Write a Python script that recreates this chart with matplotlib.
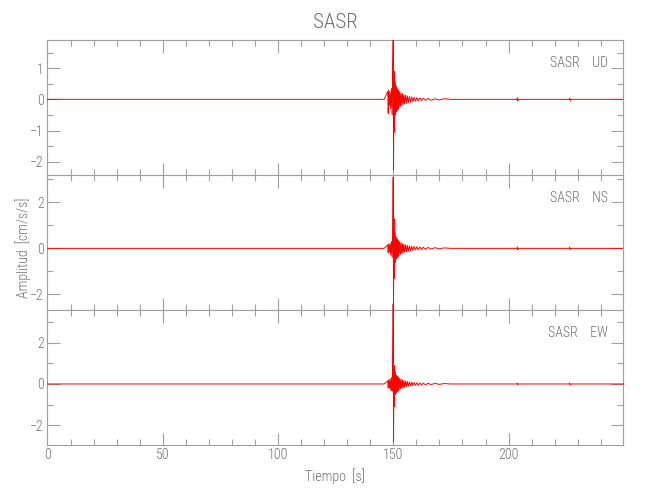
import matplotlib
matplotlib.use("Agg")
import matplotlib.pyplot as plt
from matplotlib import font_manager
from matplotlib.ticker import MultipleLocator

# estación y componentes
estacion = "SASR"
componentes = ["UD", "NS", "EW"]

t = [0, 146.0, 147.6, 147.8, 148.0, 148.3, 148.6, 148.9, 149.2, 149.5,
     149.75, 149.95, 150.1,
     150.3, 150.5, 150.7, 150.9, 151.1, 151.3, 151.5, 151.7, 151.9, 152.1,
     152.3, 152.5, 152.8, 153.1, 153.4, 153.7, 154.0, 154.3, 154.6, 154.9,
     155.3, 155.7, 156.1, 156.5, 157.0, 157.5, 158.0, 158.5, 159.0, 159.6,
     160.2, 160.8, 161.5, 162.2, 163.0, 164.0, 165.0, 166.5, 168, 170,
     172, 175,
     203.6, 203.8, 204.0, 204.3, 226.3, 226.5, 226.8, 227.1, 250]

# amplitudes estimadas (cm/s/s)
ud = [0, 0, 0.25, -0.45, 0.3, -0.2, 0.25, -0.3, 0.35, -0.5,
      1.0, 1.9, -2.25,
      0.9, -1.05, 0.55, -0.5, 0.45, -0.4, 0.38, -0.35, 0.32, -0.3,
      0.28, -0.26, 0.24, -0.22, 0.2, -0.19, 0.18, -0.16, 0.15, -0.14,
      0.13, -0.12, 0.11, -0.1, 0.09, -0.09, 0.08, -0.07, 0.07, -0.06,
      0.06, -0.05, 0.05, -0.04, 0.04, -0.03, 0.03, -0.03, 0.02, -0.02,
      0.02, 0,
      0, 0.05, -0.05, 0, 0, 0.04, -0.04, 0, 0]
ns = [0, 0, 0.15, -0.2, 0.2, -0.15, 0.2, -0.3, 0.3, -0.4,
      0.8, 3.1, -2.45,
      1.3, -1.3, 0.7, -0.6, 0.5, -0.45, 0.42, -0.4, 0.38, -0.35,
      0.32, -0.3, 0.28, -0.26, 0.24, -0.22, 0.2, -0.19, 0.18, -0.16,
      0.15, -0.14, 0.13, -0.12, 0.11, -0.1, 0.09, -0.09, 0.08, -0.07,
      0.07, -0.06, 0.06, -0.05, 0.05, -0.04, 0.04, -0.03, 0.03, -0.02,
      0.02, 0,
      0, 0.06, -0.06, 0, 0, 0.05, -0.05, 0, 0]
ew = [0, 0, 0.15, -0.2, 0.2, -0.2, 0.25, -0.3, 0.3, -0.35,
      1.35, 3.9, -2.8,
      0.9, -1.1, 0.6, -0.5, 0.45, -0.42, 0.4, -0.38, 0.35, -0.32,
      0.3, -0.28, 0.26, -0.24, 0.22, -0.2, 0.19, -0.18, 0.16, -0.15,
      0.14, -0.13, 0.12, -0.11, 0.1, -0.09, 0.09, -0.08, 0.07, -0.07,
      0.06, -0.06, 0.05, -0.05, 0.04, -0.04, 0.03, -0.03, 0.03, -0.02,
      0.02, 0,
      0, 0.04, -0.04, 0, 0, 0.05, -0.05, 0, 0]
series = [ud, ns, ew]

ylims = [(-2.42, 1.90), (-2.68, 3.19), (-2.97, 3.60)]
ymajor = [1, 2, 2]
yminor = [0.5, 1, 1]

gris = "#a0a0a0"
texto = "#707070"

# fuente estrecha si existe
nombres = {f.name for f in font_manager.fontManager.ttflist}
fuente = 'Liberation Sans'
fs = 9
for c in ['Liberation Sans Narrow', 'Roboto Condensed', 'Open Sans Condensed']:
  if c in nombres:
    fuente = c
    fs = 10
    break
plt.rcParams['font.family'] = [fuente, 'DejaVu Sans']
plt.rcParams['font.weight'] = 'light'

fig = plt.figure(figsize=(6.5, 5), dpi=100)
izq, der, abajo, arriba = 0.073, 0.958, 0.11, 0.92
alto = (arriba - abajo) / 3

axs = []
for i in range(3):
  b = arriba - alto * (i + 1)
  ax = fig.add_axes([izq, b, der - izq, alto])
  ax.plot(t, series[i], color='red', lw=0.7, clip_on=(i != 2), zorder=3)
  ax.set_xlim(0, 249.5)
  ax.set_ylim(*ylims[i])
  ax.xaxis.set_major_locator(MultipleLocator(50))
  ax.xaxis.set_minor_locator(MultipleLocator(10))
  ax.yaxis.set_major_locator(MultipleLocator(ymajor[i]))
  ax.yaxis.set_minor_locator(MultipleLocator(yminor[i]))
  ax.tick_params(which='both', direction='in', top=True, right=True,
                 color=gris, labelcolor=texto, labelsize=fs, width=0.8, pad=2.5)
  ax.tick_params(which='major', length=9)
  ax.tick_params(which='minor', length=4.5)
  for s in ax.spines.values():
    s.set_color(gris)
    s.set_linewidth(0.8)
  if i < 2:
    ax.tick_params(labelbottom=False)
  ax.text(0.975, 0.83, estacion + "    " + componentes[i], transform=ax.transAxes,
          ha='right', va='center', color=texto, fontsize=fs)
  axs.append(ax)

axs[2].set_xlabel("Tiempo  [s]", color=texto, fontsize=fs, fontweight='light', labelpad=4)
fig.text(0.035, 0.504, "Amplitud  [cm/s/s]", rotation=90, ha='center', va='center',
         color=texto, fontsize=fs)
fig.text(0.516, 0.955, estacion, ha='center', va='center', color=texto, fontsize=15)

fig.savefig("out.png", dpi=100)
